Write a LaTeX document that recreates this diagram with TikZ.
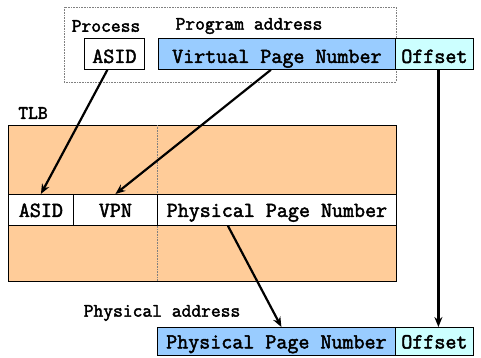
\documentclass[tikz,border=0pt]{standalone}
\usepackage{fontspec}
\newfontfamily\courb{Latin Modern Mono}[FakeBold=2.2]
\usetikzlibrary{arrows.meta}
\definecolor{vblue}{HTML}{99CCFF}
\definecolor{vcyan}{HTML}{CCFFFF}
\definecolor{tlborange}{HTML}{FFCC99}
\tikzset{
  cell/.style={draw=black, line width=0.8pt, anchor=north west, inner sep=0pt,
    text height=14pt, text depth=0pt,
    font=\courb\fontsize{21.4}{23}\selectfont},
  lowtext/.style={text height=18pt},
  lab/.style={inner sep=0pt, font=\courb\fontsize{19}{21}\selectfont},
  conn/.style={line width=2.2pt, -{Stealth[length=10pt,width=8pt]}},
}
\begin{document}
\begin{tikzpicture}[x=1pt,y=-1pt]
\useasboundingbox (0,0) rectangle (481,357);
% dotted outer box
\draw[densely dotted, draw=gray, line width=0.6pt] (64,7) rectangle (396,82);
\node[lab] (proc) at (106,26) {Process};
\node[lab] (prog) at (249,26) {Program address};
\node[cell, lowtext, fill=white, minimum width=60pt, minimum height=31pt] (asid) at (84,38) {ASID};
\node[cell, lowtext, fill=vblue, minimum width=237pt, minimum height=31pt] (vpn) at (158,38) {Virtual Page Number};
\node[cell, lowtext, fill=vcyan, minimum width=78pt, minimum height=31pt] (off) at (395,38) {Offset};
% TLB
\node[lab] (tlblab) at (33,113) {TLB};
\node[draw=black, line width=0.8pt, fill=tlborange, anchor=north west, inner sep=0pt,
  minimum width=388pt, minimum height=156pt] (tlb) at (8,125) {};
\draw[densely dotted, draw=gray, line width=0.6pt] (157,125) -- (157,281);
\node[cell, fill=white, minimum width=65pt, minimum height=31pt] (rasid) at (8,194) {ASID};
\node[cell, fill=white, minimum width=84pt, minimum height=31pt] (rvpn) at (73,194) {VPN};
\node[cell, fill=white, minimum width=239pt, minimum height=31pt] (rppn) at (157,194) {Physical Page Number};
% physical address
\node[lab] (phys) at (162,313) {Physical address};
\node[cell, fill=vblue, minimum width=238pt, minimum height=28pt] (pppn) at (157,327) {Physical Page Number};
\node[cell, fill=vcyan, minimum width=78pt, minimum height=28pt] (poff) at (395,327) {Offset};
% connectors
\draw[conn] ([xshift=-7pt]asid.south) -- (rasid.north);
\draw[conn] ([xshift=-6pt]vpn.south) -- (rvpn.north);
\draw[conn] ([xshift=-49pt]rppn.south) -- ([xshift=5pt]pppn.north);
\draw[conn] ([xshift=4pt]off.south) -- ([xshift=4pt]poff.north);
\end{tikzpicture}
\end{document}
